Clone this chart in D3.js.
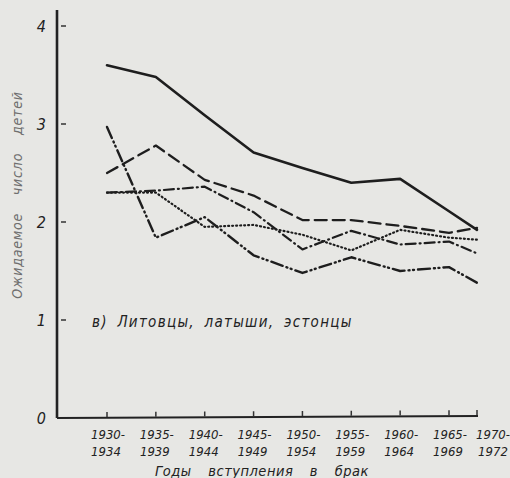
<!DOCTYPE html>
<html><head><meta charset="utf-8">
<script src="https://cdn.jsdelivr.net/npm/d3@7/dist/d3.min.js"></script>
<style>
html,body{margin:0;padding:0;background:#e7e7e4;}
svg{display:block;}
text{font-family:"DejaVu Sans Condensed","DejaVu Sans",sans-serif;font-style:oblique;fill:#222;}
</style></head>
<body>
<script>
// categories (marriage cohorts) and their mid-year positions
const catTop = ["1930-","1935-","1940-","1945-","1950-","1955-","1960-","1965-","1970-"];
const catBottom = ["1934","1939","1944","1949","1954","1959","1964","1969","1972"];
const midYears = [1932, 1937, 1942, 1947, 1952, 1957, 1962, 1967, 1971];
const yTicks = [0, 1, 2, 3, 4];

// expected number of children, five series
const solidSeries   = [3.60, 3.48, 3.09, 2.71, 2.55, 2.40, 2.44, 2.11, 1.92];
const dashedSeries  = [2.50, 2.78, 2.43, 2.27, 2.02, 2.02, 1.96, 1.89, 1.94];
const dashDotSeries = [2.30, 2.32, 2.36, 2.10, 1.72, 1.91, 1.77, 1.80, 1.68];
const dottedSeries  = [2.30, 2.30, 1.95, 1.97, 1.87, 1.71, 1.92, 1.84, 1.82];
const dashDot2Series= [2.97, 1.84, 2.05, 1.66, 1.48, 1.64, 1.50, 1.54, 1.38];

const W = 510, H = 478;
const svg = d3.select("body").append("svg").attr("width", W).attr("height", H);

const x = d3.scaleLinear().domain([1932, 1967, 1971]).range([107, 449, 477]);
const y = d3.scaleLinear().domain([0, 4]).range([418, 26]);

// axes
svg.append("line").attr("x1", 57).attr("x2", 57).attr("y1", 10).attr("y2", y(0))
  .attr("stroke", "#222").attr("stroke-width", 2.6);
svg.append("line").attr("x1", 57).attr("x2", 478).attr("y1", y(0)).attr("y2", y(0) - 2)
  .attr("stroke", "#222").attr("stroke-width", 2);

// y ticks
const yt = svg.append("g");
yt.selectAll("line").data(yTicks.filter(d => d > 0)).join("line")
  .attr("x1", 61).attr("x2", 66).attr("y1", d => y(d)).attr("y2", d => y(d))
  .attr("stroke", "#333").attr("stroke-width", 1.5);
yt.selectAll("text").data(yTicks).join("text")
  .attr("x", 46).attr("y", d => y(d) + 6).attr("text-anchor", "end")
  .attr("font-size", 16).text(d => d);

// x ticks
const xt = svg.append("g");
xt.selectAll("line").data(midYears).join("line")
  .attr("x1", d => x(d)).attr("x2", d => x(d))
  .attr("y1", (d, i) => y(0) - 1 - i * 0.25).attr("y2", (d, i) => y(0) - 6 - i * 0.25)
  .attr("stroke", "#333").attr("stroke-width", 1.5);
xt.selectAll("text.t").data(midYears).join("text").attr("class", "t")
  .attr("x", (d, i) => x(d) + (i === 8 ? 16 : 1)).attr("y", 439)
  .attr("text-anchor", "middle").attr("font-size", 13).text((d, i) => catTop[i]);
xt.selectAll("text.b").data(midYears).join("text").attr("class", "b")
  .attr("x", (d, i) => x(d) + (i === 8 ? 16 : -1)).attr("y", 456)
  .attr("text-anchor", "middle").attr("font-size", 13).text((d, i) => catBottom[i]);

// axis titles
svg.append("text").attr("x", 262).attr("y", 476).attr("text-anchor", "middle")
  .attr("font-size", 14.5).attr("letter-spacing", 0.5).attr("word-spacing", 12)
  .text("Годы вступления в брак");
svg.append("text").attr("transform", "translate(22,195) rotate(-90)")
  .attr("text-anchor", "middle").attr("font-size", 14).attr("letter-spacing", 0.8)
  .attr("word-spacing", 13).style("fill", "#6f6f6f").text("Ожидаемое число детей");

// annotation
svg.append("text").attr("x", 92).attr("y", 327).attr("font-size", 15)
  .attr("letter-spacing", 1.3).attr("word-spacing", 4).text("в) Литовцы, латыши, эстонцы");

// lines
const line = d3.line().x((d, i) => x(midYears[i])).y(d => y(d));
const series = [
  {v: solidSeries, dash: null, w: 2.6},
  {v: dashedSeries, dash: "12,6", w: 2.3},
  {v: dashDotSeries, dash: "10,4,1,4", w: 2.2},
  {v: dottedSeries, dash: "1,3", w: 2.2},
  {v: dashDot2Series, dash: "12,4,1,3.5,1,4", w: 2.4}
];
svg.append("g").selectAll("path").data(series).join("path")
  .attr("d", d => line(d.v)).attr("fill", "none").attr("stroke", "#1e1e1e")
  .attr("stroke-width", d => d.w).attr("stroke-dasharray", d => d.dash)
  .attr("stroke-linecap", "round")
  .attr("stroke-linejoin", "round");
</script>
</body></html>
